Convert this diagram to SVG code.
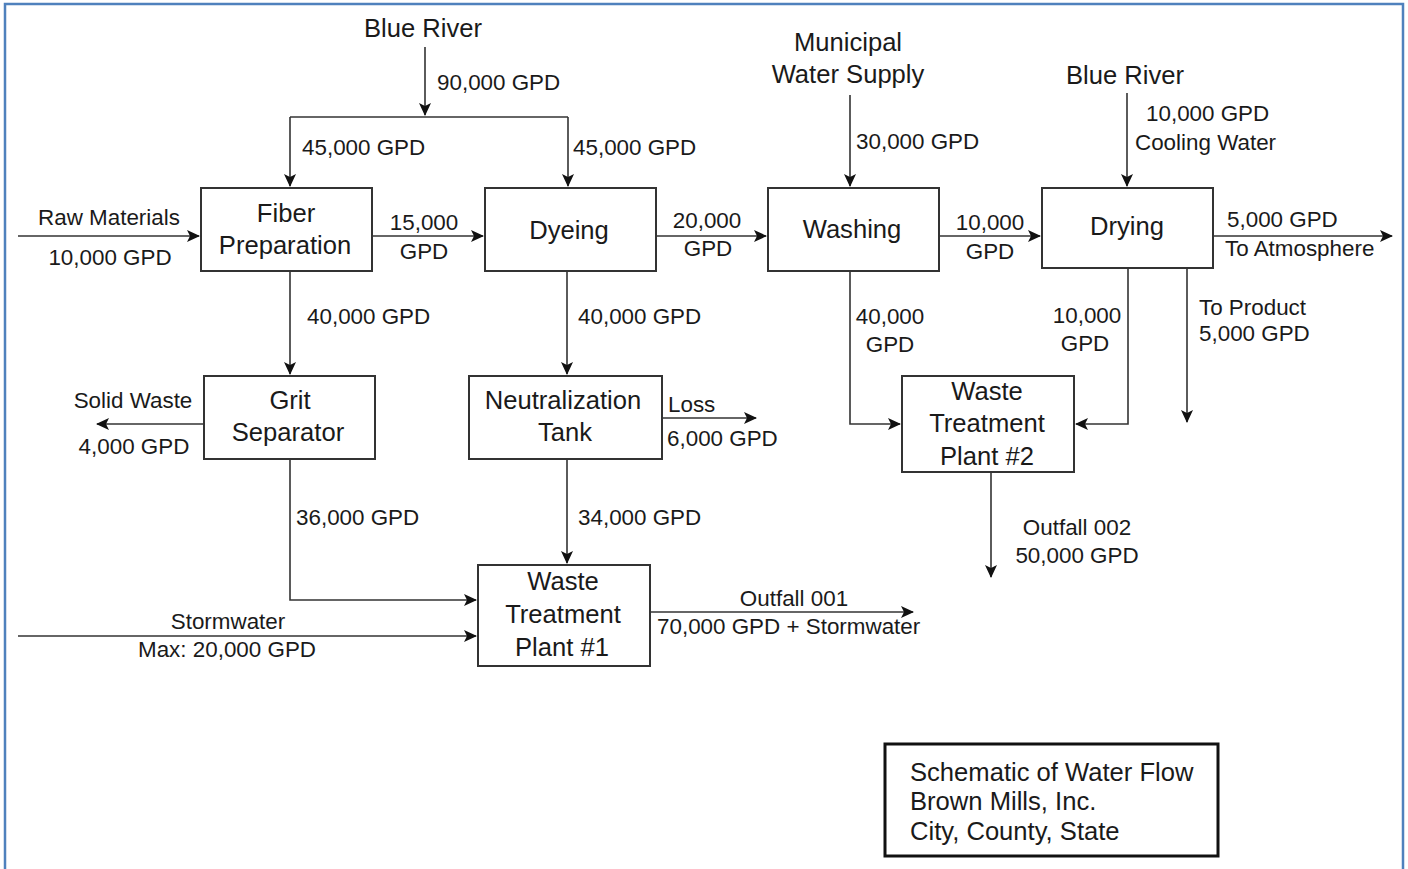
<svg xmlns="http://www.w3.org/2000/svg" width="1408" height="869" viewBox="0 0 1408 869">
<defs>
<marker id="arr" markerUnits="userSpaceOnUse" markerWidth="14" markerHeight="12" refX="12" refY="6" orient="auto">
<path d="M0,0 L13,6 L0,12 L3,6 z" fill="#111"/>
</marker>
<style>
.node rect{fill:#fff;stroke:#333;stroke-width:2}
.nt{font-family:"Liberation Sans",Arial,sans-serif;font-size:25.6px;fill:#1a1a1a;text-anchor:middle}
.lb{font-family:"Liberation Sans",Arial,sans-serif;font-size:22.4px;fill:#1a1a1a}
.mid{text-anchor:middle}
#connectors path{fill:none;stroke:#333;stroke-width:1.6;marker-end:url(#arr)}
#connectors path.plain{marker-end:none}
</style>
</defs>
<rect width="1408" height="869" fill="#fff"/>
<path d="M5,869 V4 H1403 V869" fill="none" stroke="#4f81bd" stroke-width="2.5"/>

<g id="connectors">
<path d="M425,47 V115"/>
<path class="plain" d="M290,117 H568"/>
<path d="M290,117 V186"/>
<path d="M568,117 V186"/>
<path d="M18,236 H199"/>
<path d="M372,236 H483"/>
<path d="M656,236 H766"/>
<path d="M939,236 H1040"/>
<path d="M1213,236 H1392"/>
<path d="M850,95 V186"/>
<path d="M1127,93 V186"/>
<path d="M290,271 V374"/>
<path d="M567,271 V374"/>
<path d="M850,271 V424 H900"/>
<path d="M1128,268 V424 H1076"/>
<path d="M1187,268 V422"/>
<path d="M204,424 H97"/>
<path d="M662,418 H756"/>
<path d="M290,459 V600 H476"/>
<path d="M567,459 V563"/>
<path d="M18,636 H476"/>
<path d="M650,612 H913"/>
<path d="M991,472 V577"/>
</g>

<g id="fiber" class="node"><rect x="201" y="188" width="171" height="83"/><text class="nt" x="286" y="222">Fiber</text><text class="nt" x="285" y="254">Preparation</text></g>
<g id="dyeing" class="node"><rect x="485" y="188" width="171" height="83"/><text class="nt" x="569" y="239">Dyeing</text></g>
<g id="washing" class="node"><rect x="768" y="188" width="171" height="83"/><text class="nt" x="852" y="238">Washing</text></g>
<g id="drying" class="node"><rect x="1042" y="188" width="171" height="80"/><text class="nt" x="1127" y="235">Drying</text></g>
<g id="grit" class="node"><rect x="204" y="376" width="171" height="83"/><text class="nt" x="290" y="409">Grit</text><text class="nt" x="288" y="441">Separator</text></g>
<g id="neutralization" class="node"><rect x="469" y="376" width="193" height="83"/><text class="nt" x="563" y="409">Neutralization</text><text class="nt" x="565" y="441">Tank</text></g>
<g id="wtp2" class="node"><rect x="902" y="376" width="172" height="96"/><text class="nt" x="987" y="400">Waste</text><text class="nt" x="987" y="432">Treatment</text><text class="nt" x="987" y="465">Plant #2</text></g>
<g id="wtp1" class="node"><rect x="478" y="565" width="172" height="101"/><text class="nt" x="563" y="590">Waste</text><text class="nt" x="563" y="623">Treatment</text><text class="nt" x="562" y="656">Plant #1</text></g>

<g id="sources">
<text class="nt" x="423" y="37">Blue River</text>
<text class="nt" x="848" y="51">Municipal</text>
<text class="nt" x="848" y="83">Water Supply</text>
<text class="nt" x="1125" y="84">Blue River</text>
</g>

<g id="labels">
<text class="lb" x="437" y="90">90,000 GPD</text>
<text class="lb" x="302" y="155">45,000 GPD</text>
<text class="lb" x="573" y="155">45,000 GPD</text>
<text class="lb mid" x="109" y="225">Raw Materials</text>
<text class="lb mid" x="110" y="265">10,000 GPD</text>
<text class="lb mid" x="424" y="230">15,000</text>
<text class="lb mid" x="424" y="259">GPD</text>
<text class="lb mid" x="707" y="228">20,000</text>
<text class="lb mid" x="708" y="256">GPD</text>
<text class="lb mid" x="990" y="230">10,000</text>
<text class="lb mid" x="990" y="259">GPD</text>
<text class="lb" x="1227" y="227">5,000 GPD</text>
<text class="lb" x="1225" y="256">To Atmosphere</text>
<text class="lb" x="856" y="149">30,000 GPD</text>
<text class="lb" x="1146" y="121">10,000 GPD</text>
<text class="lb" x="1135" y="150">Cooling Water</text>
<text class="lb" x="307" y="324">40,000 GPD</text>
<text class="lb" x="578" y="324">40,000 GPD</text>
<text class="lb mid" x="890" y="324">40,000</text>
<text class="lb mid" x="890" y="352">GPD</text>
<text class="lb mid" x="1087" y="323">10,000</text>
<text class="lb mid" x="1085" y="351">GPD</text>
<text class="lb" x="1199" y="315">To Product</text>
<text class="lb" x="1199" y="341">5,000 GPD</text>
<text class="lb mid" x="133" y="408">Solid Waste</text>
<text class="lb mid" x="134" y="454">4,000 GPD</text>
<text class="lb" x="668" y="412">Loss</text>
<text class="lb" x="667" y="446">6,000 GPD</text>
<text class="lb" x="296" y="525">36,000 GPD</text>
<text class="lb" x="578" y="525">34,000 GPD</text>
<text class="lb mid" x="228" y="629">Stormwater</text>
<text class="lb mid" x="227" y="657">Max: 20,000 GPD</text>
<text class="lb mid" x="794" y="606">Outfall 001</text>
<text class="lb" x="657" y="634">70,000 GPD + Stormwater</text>
<text class="lb mid" x="1077" y="535">Outfall 002</text>
<text class="lb mid" x="1077" y="563">50,000 GPD</text>
</g>

<g id="title">
<rect x="885" y="744" width="333" height="112" fill="#fff" stroke="#111" stroke-width="3"/>
<text class="nt" x="910" y="781" style="text-anchor:start">Schematic of Water Flow</text>
<text class="nt" x="910" y="810" style="text-anchor:start">Brown Mills, Inc.</text>
<text class="nt" x="910" y="840" style="text-anchor:start">City, County, State</text>
</g>
</svg>
